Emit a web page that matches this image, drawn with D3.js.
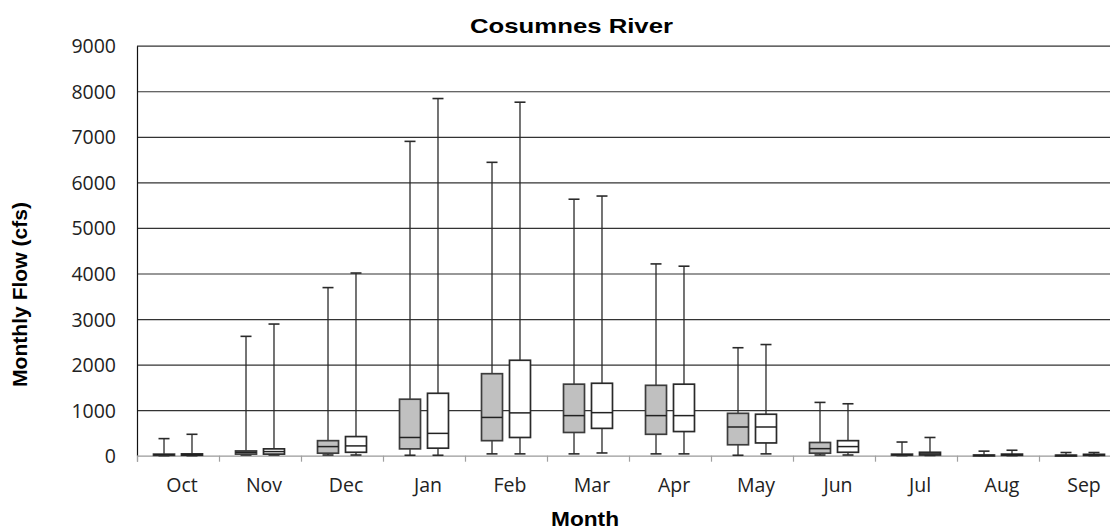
<!DOCTYPE html>
<html>
<head>
<meta charset="utf-8">
<script src="https://cdn.jsdelivr.net/npm/d3@7"></script>
<style>
  html, body { margin: 0; padding: 0; background: #fff; }
  svg { display: block; }
</style>
</head>
<body>
<svg id="chart" width="1110" height="529"></svg>
<script>
// ---- Data ----
const months = ["Oct","Nov","Dec","Jan","Feb","Mar","Apr","May","Jun","Jul","Aug","Sep"];
const seriesNames = ["gray","white"];
const yTicks = [0,1000,2000,3000,4000,5000,6000,7000,8000,9000];

// gray boxes
const grayMin = [0, 15, 15, 10, 40, 40, 40, 10, 15, 2, 0, 0];
const grayQ1  = [8, 35, 55, 150, 330, 510, 470, 240, 55, 10, 3, 3];
const grayMed = [20, 75, 200, 400, 840, 880, 880, 630, 155, 20, 8, 6];
const grayQ3  = [35, 105, 330, 1240, 1800, 1570, 1545, 930, 290, 35, 15, 12];
const grayMax = [375, 2620, 3690, 6900, 6440, 5630, 4210, 2370, 1170, 300, 100, 70];

// white boxes
const whiteMin = [0, 15, 15, 10, 40, 60, 40, 40, 15, 5, 2, 2];
const whiteQ1  = [10, 35, 75, 165, 400, 600, 530, 280, 75, 15, 8, 6];
const whiteMed = [20, 90, 215, 490, 940, 945, 880, 630, 200, 40, 20, 15];
const whiteQ3  = [40, 150, 420, 1370, 2095, 1590, 1570, 910, 330, 75, 35, 30];
const whiteMax = [470, 2890, 4010, 7840, 7760, 5700, 4160, 2440, 1140, 400, 120, 70];

// ---- Build table ----
const rows = [];
months.forEach((m, i) => {
  rows.push({month: m, series: "gray", min: grayMin[i], q1: grayQ1[i], med: grayMed[i], q3: grayQ3[i], max: grayMax[i]});
  rows.push({month: m, series: "white", min: whiteMin[i], q1: whiteQ1[i], med: whiteMed[i], q3: whiteQ3[i], max: whiteMax[i]});
});

// ---- Layout ----
const plotLeft = 137, plotTop = 45.7, plotW = 984, plotH = 410;
const svg = d3.select("#chart");

const x0 = d3.scaleBand().domain(months).range([plotLeft, plotLeft + plotW]).paddingInner(0).paddingOuter(0);
const x1 = d3.scaleBand().domain(seriesNames).range([0, x0.bandwidth()]).paddingInner(0.25).paddingOuter(0.59);
const y = d3.scaleLinear().domain([0, 9000]).range([plotTop + plotH, plotTop]);

// gridlines
const grid = svg.append("g").attr("transform", `translate(${plotLeft},0)`)
  .call(d3.axisLeft(y).tickValues(yTicks).tickSize(-plotW).tickFormat(""));
grid.select(".domain").remove();
grid.selectAll("line").attr("stroke", "#333").attr("stroke-width", 1.2)
  .filter(d => d === 0).remove();

// y axis labels
const yAx = svg.append("g").attr("transform", `translate(${plotLeft},0)`)
  .call(d3.axisLeft(y).tickValues(yTicks).tickSize(0).tickPadding(21).tickFormat(d3.format("d")));
yAx.select(".domain").attr("stroke", "#111").attr("stroke-width", 1.2);
yAx.selectAll("text")
  .attr("font-family", "'Open Sans', sans-serif")
  .attr("font-size", "19.5px")
  .attr("fill", "#222")
  .attr("dy", "0.36em");

// x axis: boundary ticks
const xb = d3.scaleLinear().domain([0, months.length]).range([plotLeft, plotLeft + plotW]);
const xAx = svg.append("g").attr("transform", `translate(0,${plotTop + plotH})`)
  .call(d3.axisBottom(xb).ticks(months.length).tickSize(6).tickFormat(""));
xAx.select(".domain").attr("stroke", "#9a9a9a").attr("stroke-width", 1.2);
xAx.selectAll("line").attr("stroke", "#a0a0a0").attr("stroke-width", 1.2);

// x axis labels
const xLab = svg.append("g").attr("transform", `translate(4,${plotTop + plotH})`)
  .call(d3.axisBottom(x0).tickSize(0).tickPadding(22));
xLab.select(".domain").remove();
xLab.selectAll("text")
  .attr("font-family", "'Open Sans', sans-serif")
  .attr("font-size", "19.5px")
  .attr("fill", "#222")
  .attr("dy", "0.71em");

// ---- Boxes ----
const boxW = x1.bandwidth();
const capW = 11;
const g = svg.append("g");
const b = g.selectAll("g.box").data(rows).join("g").attr("class", "box")
  .attr("transform", d => `translate(${x0(d.month) + x1(d.series) + boxW / 2},0)`);

// whiskers
b.append("line").attr("x1", 0).attr("x2", 0)
  .attr("y1", d => y(d.max)).attr("y2", d => y(d.q3))
  .attr("stroke", "#2a2a2a").attr("stroke-width", 1.3);
b.append("line").attr("x1", 0).attr("x2", 0)
  .attr("y1", d => y(d.q1)).attr("y2", d => y(d.min))
  .attr("stroke", "#2a2a2a").attr("stroke-width", 1.3);
// caps
b.append("line").attr("x1", -capW / 2).attr("x2", capW / 2)
  .attr("y1", d => y(d.max)).attr("y2", d => y(d.max))
  .attr("stroke", "#2a2a2a").attr("stroke-width", 1.6);
b.append("line").attr("x1", -capW / 2).attr("x2", capW / 2)
  .attr("y1", d => y(d.min)).attr("y2", d => y(d.min))
  .attr("stroke", "#2a2a2a").attr("stroke-width", 1.6);
// box
b.append("rect")
  .attr("x", -boxW / 2).attr("width", boxW)
  .attr("y", d => y(d.q3)).attr("height", d => Math.max(1, y(d.q1) - y(d.q3)))
  .attr("fill", d => d.series === "gray" ? "#c0c0c0" : "#ffffff")
  .attr("stroke", d => d.series === "gray" ? "#3c3c3c" : "#2a2a2a")
  .attr("stroke-width", 1.7);
// median
b.append("line").attr("x1", -boxW / 2).attr("x2", boxW / 2)
  .attr("y1", d => y(d.med)).attr("y2", d => y(d.med))
  .attr("stroke", "#222").attr("stroke-width", 1.5);

// ---- Titles ----
svg.append("text")
  .attr("x", 571.5).attr("y", 33.3)
  .attr("text-anchor", "middle")
  .attr("font-family", "'Liberation Sans', Arial, sans-serif")
  .attr("font-weight", "bold")
  .attr("font-size", "21px")
  .attr("textLength", 203).attr("lengthAdjust", "spacingAndGlyphs")
  .attr("fill", "#000")
  .text("Cosumnes River");

svg.append("text")
  .attr("transform", "translate(27,294.5) rotate(-90)")
  .attr("text-anchor", "middle")
  .attr("font-family", "'Liberation Sans', Arial, sans-serif")
  .attr("font-weight", "bold")
  .attr("font-size", "20px")
  .attr("textLength", 185).attr("lengthAdjust", "spacingAndGlyphs")
  .attr("fill", "#000")
  .text("Monthly Flow (cfs)");

svg.append("text")
  .attr("x", 585).attr("y", 526)
  .attr("text-anchor", "middle")
  .attr("font-family", "'Liberation Sans', Arial, sans-serif")
  .attr("font-weight", "bold")
  .attr("font-size", "20.5px")
  .attr("textLength", 68).attr("lengthAdjust", "spacingAndGlyphs")
  .attr("fill", "#000")
  .text("Month");
</script>
</body>
</html>
